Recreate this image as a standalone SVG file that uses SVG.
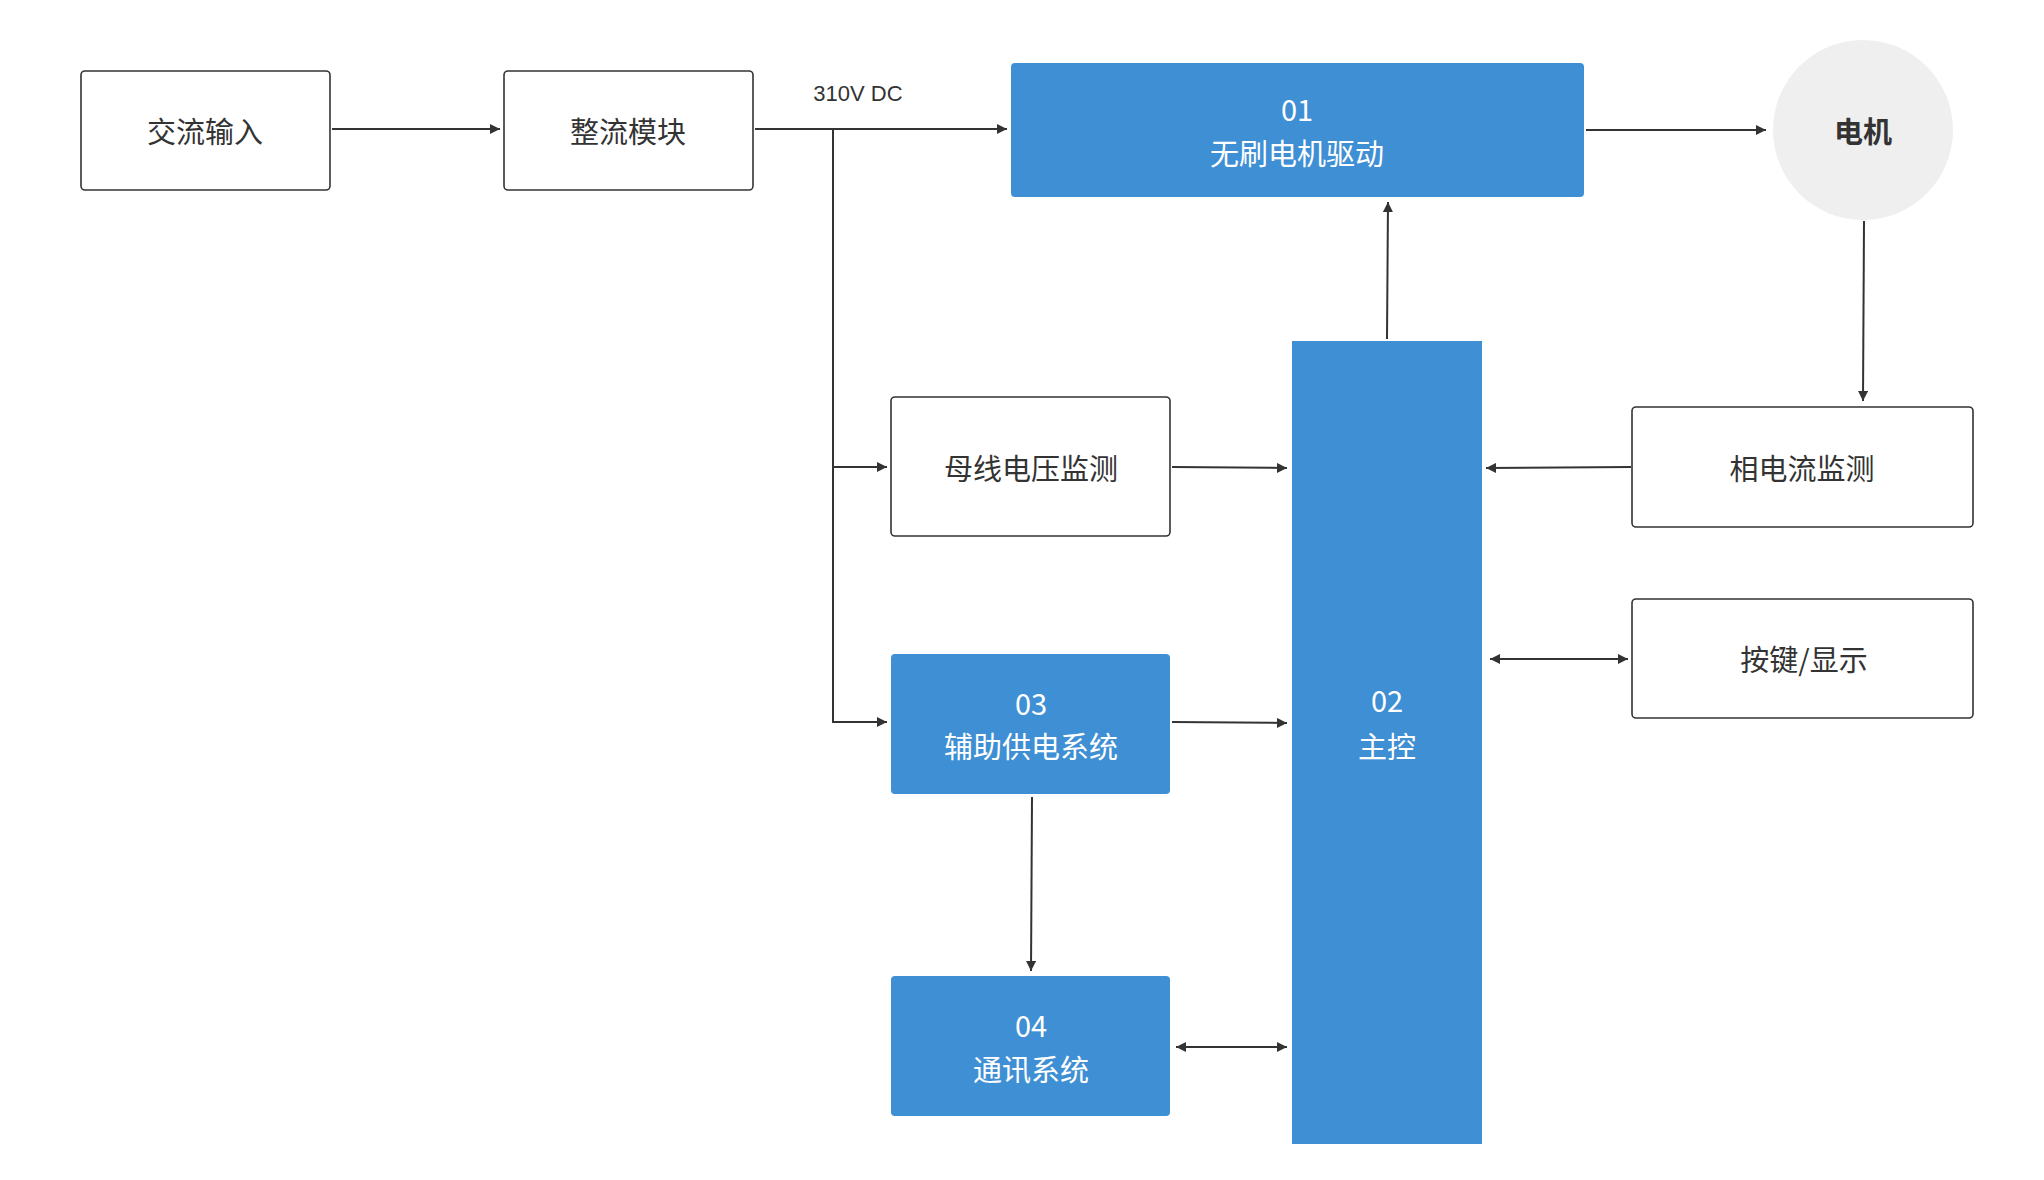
<svg xmlns="http://www.w3.org/2000/svg" width="2044" height="1180" viewBox="0 0 2044 1180">
<style>
.w{fill:#fff;stroke:#333;stroke-width:1.6}
.b{fill:#3f8fd4}
.t{font-family:"Noto Sans CJK SC","Noto Sans",sans-serif;font-size:29px;text-anchor:middle;dominant-baseline:central}
.d{fill:#333}.l{fill:#fff}
.c{stroke:#333;stroke-width:2;fill:none}
</style>
<defs><marker id="a" viewBox="0 0 10 10" refX="10" refY="5" markerWidth="10" markerHeight="10" markerUnits="userSpaceOnUse" orient="auto-start-reverse"><path d="M0,0L10,5L0,10z" fill="#333"/></marker></defs>
<rect width="2044" height="1180" fill="#fff"/>
<g id="n1"><rect class="w" x="81" y="71" width="249" height="119" rx="4"/><text class="t d" x="205" y="130">交流输入</text></g>
<g id="n2"><rect class="w" x="504" y="71" width="249" height="119" rx="4"/><text class="t d" x="628" y="130">整流模块</text></g>
<g id="n01"><rect class="b" x="1011" y="63" width="573" height="134" rx="4"/><text class="t l" x="1297" y="108">01</text><text class="t l" x="1297" y="152">无刷电机驱动</text></g>
<g id="motor"><circle cx="1863" cy="130" r="90" fill="#efefef"/><text class="t d" x="1863" y="130" font-weight="bold">电机</text></g>
<g id="bus"><rect class="w" x="891" y="397" width="279" height="139" rx="4"/><text class="t d" x="1031" y="467">母线电压监测</text></g>
<g id="n03"><rect class="b" x="891" y="654" width="279" height="140" rx="4"/><text class="t l" x="1031" y="702">03</text><text class="t l" x="1031" y="745">辅助供电系统</text></g>
<g id="n04"><rect class="b" x="891" y="976" width="279" height="140" rx="4"/><text class="t l" x="1031" y="1024">04</text><text class="t l" x="1031" y="1068">通讯系统</text></g>
<g id="n02"><rect class="b" x="1292" y="341" width="190" height="803"/><text class="t l" x="1387" y="699">02</text><text class="t l" x="1387" y="745">主控</text></g>
<g id="phase"><rect class="w" x="1632" y="407" width="341" height="120" rx="4"/><text class="t d" x="1802" y="467">相电流监测</text></g>
<g id="key"><rect class="w" x="1632" y="599" width="341" height="119" rx="4"/><text class="t d" x="1804" y="658">按键/显示</text></g>
<text x="858" y="93" font-family="Liberation Sans,Arial,sans-serif" font-size="22" fill="#333" text-anchor="middle" dominant-baseline="central">310V DC</text>
<g id="connectors" class="c">
<path d="M332,129H500" marker-end="url(#a)"/>
<path d="M755,129H1007" marker-end="url(#a)"/>
<path d="M833,129V722H887" marker-end="url(#a)"/>
<path d="M833,467H887" marker-end="url(#a)"/>
<path d="M1586,130H1766" marker-end="url(#a)"/>
<path d="M1864,221L1863,401" marker-end="url(#a)"/>
<path d="M1172,467L1287,468" marker-end="url(#a)"/>
<path d="M1631,467L1486,468" marker-end="url(#a)"/>
<path d="M1490,659H1628" marker-start="url(#a)" marker-end="url(#a)"/>
<path d="M1172,722L1287,723" marker-end="url(#a)"/>
<path d="M1032,797L1031,971" marker-end="url(#a)"/>
<path d="M1176,1047H1287" marker-start="url(#a)" marker-end="url(#a)"/>
<path d="M1387,339L1388,202" marker-end="url(#a)"/>
</g>
</svg>
